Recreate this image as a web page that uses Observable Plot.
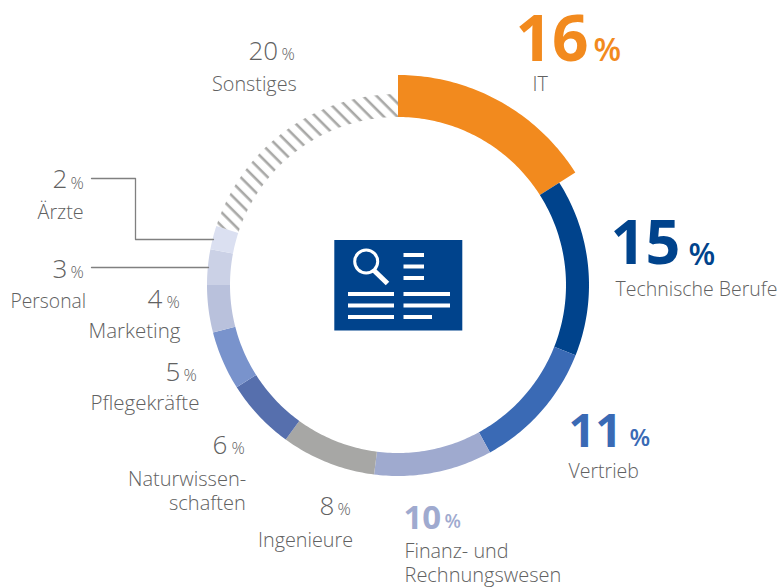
<!DOCTYPE html>
<html lang="de">
<head>
<meta charset="utf-8">
<script src="https://cdn.jsdelivr.net/npm/d3@7"></script>
<script src="https://cdn.jsdelivr.net/npm/@observablehq/plot@0.6"></script>
<style>
html,body{margin:0;padding:0;background:#fff}
svg{display:block}
</style>
</head>
<body>
<div id="chart"></div>
<script>
// chart data
const categories = ["IT","Technische Berufe","Vertrieb","Finanz- und Rechnungswesen","Ingenieure","Naturwissenschaften","Pflegekräfte","Marketing","Personal","Ärzte","Sonstiges"];
const shares = [16,15,11,10,8,6,5,4,3,2,20];
const colors = ["#f28a1e","#00438c","#3a6ab5","#9faacf","#a7a7a5","#566fad","#7993cc","#b9c1dc","#cbd1e6","#dbe0f1","url(#hatch)"];

// ring layout
const cx = 398, cy = 285, innerR = 168, outerR = 191, itOuterR = 210;

let cum = 0;
const ring = [];
shares.forEach((v, i) => {
  const start = cum, end = cum + v;
  cum = end;
  const n = Math.max(2, Math.round(v * 4));
  const rOut = i === 0 ? itOuterR : outerR;
  for (let k = 0; k <= n; k++) {
    const t = (start + (end - start) * k / n) / 100 * 2 * Math.PI;
    ring.push({
      seg: categories[i], color: colors[i],
      x1: cx + innerR * Math.sin(t), y1: cy - innerR * Math.cos(t),
      x2: cx + rOut * Math.sin(t),   y2: cy - rOut * Math.cos(t)
    });
  }
});

// percent numbers: [text, x, baseline, size, colour]
const boldNumbers = [
  ["16",515,60,64,colors[0]],
  ["15",610,263,61,colors[1]],
  ["11",568,446,47,colors[2]],
  ["10",403,528,33,colors[3]]
];
const boldPercents = [
  ["%",593,60,32,colors[0]],
  ["%",688,264,31,colors[1]],
  ["%",629,445,24,colors[2]],
  ["%",444,527,19,colors[3]]
];
const grey = "#616161";
const lightNumbers = [
  ["20",248,59,26],["%",281,59,16.5],
  ["2",52,187,26],["%",70,188,16.5],
  ["3",52,277,26],["%",70,277,16.5],
  ["4",147,307,26],["%",166,307,16.5],
  ["5",165,380,26],["%",183,380,16.5],
  ["6",212,453,26],["%",231,453,16.5],
  ["8",319,514,26],["%",337,514,16.5]
];
// label lines: [text, x, baseline, size]
const labelLines = [
  ["Sonstiges",211.5,90,19.8],["Ärzte",37,218,19.8],["Personal",10,307,19.3],["Marketing",88,337,20.5],
  ["Pflegekräfte",90,409,20.5],["Naturwissen-",127.5,485,20],["schaften",168.5,509,20],["Ingenieure",257.5,546,19.8],
  ["Finanz- und",404,557,19.8],["Rechnungswesen",404,581,20],["IT",532,90,19.8],["Technische Berufe",615,295,19.5],["Vertrieb",568,477,19.5]
];

// leader lines
const leaders = [
  {z:"Ärzte",x:91,y:178},{z:"Ärzte",x:135,y:178},{z:"Ärzte",x:135,y:239},{z:"Ärzte",x:213,y:239},
  {z:"Personal",x:91,y:267},{z:"Personal",x:208,y:267}
];

// centre icon
const iconBlue = colors[1];
const iconBars = [
  [403,423.5,254.5],[403,423.5,266],[403,423.5,277.5],
  [347.5,393.5,293.5],[347.5,393.5,305],[347.5,393.5,316.5],
  [403,449.5,293.5],[403,449.5,305],[403,431.5,316.5]
];

const hatchDefs = () => {
  const defs = d3.create("svg:defs");
  const p = defs.append("pattern").attr("id","hatch").attr("patternUnits","userSpaceOnUse")
    .attr("width",9.6).attr("height",9.6).attr("patternTransform","rotate(-45)");
  p.append("rect").attr("x",5.2).attr("width",2.6).attr("height",9.6).attr("fill","#a8a8a6");
  return defs.node();
};

const font = "'Open Sans', sans-serif";
const chart = Plot.plot({
  width: 781, height: 587,
  margin: 0,
  style: {background:"#fff"},
  x: {axis:null, domain:[0,781], range:[0,781]},
  y: {axis:null, domain:[0,587], range:[0,587]},
  marks: [
    hatchDefs,
    Plot.area(ring, {x1:"x1", y1:"y1", x2:"x2", y2:"y2", z:"seg", fill:{value:"color", scale:null}}),
    Plot.line(leaders, {x:"x", y:"y", z:"z", stroke:"#808080", strokeWidth:1.3}),
    Plot.rect([0], {x1:[334.3], x2:[462.3], y1:[240], y2:[330.5], fill:iconBlue}),
    Plot.dot([0], {x:[365.7], y:[261], r:11.5, stroke:"#fff", strokeWidth:3, fill:"none"}),
    Plot.link([0], {x1:[373.5], y1:[270], x2:[387], y2:[283], stroke:"#fff", strokeWidth:5}),
    Plot.link(iconBars, {x1:d=>d[0], x2:d=>d[1], y1:d=>d[2], y2:d=>d[2], stroke:"#fff", strokeWidth:4}),
    Plot.text(boldNumbers, {text:d=>d[0], x:d=>d[1], y:d=>d[2], fontSize:d=>d[3], fill:{value:d=>d[4], scale:null},
      textAnchor:"start", lineAnchor:"bottom", fontFamily:font, fontWeight:700}),
    Plot.text(boldPercents, {text:d=>d[0], x:d=>d[1], y:d=>d[2], fontSize:d=>d[3], fill:{value:d=>d[4], scale:null},
      textAnchor:"start", lineAnchor:"bottom", fontFamily:font, fontWeight:600}),
    Plot.text(lightNumbers, {text:d=>d[0], x:d=>d[1], y:d=>d[2], fontSize:d=>d[3], fill:grey,
      textAnchor:"start", lineAnchor:"bottom", fontFamily:font, fontWeight:300}),
    Plot.text(labelLines, {text:d=>d[0], x:d=>d[1], y:d=>d[2], fontSize:d=>d[3], fill:grey,
      textAnchor:"start", lineAnchor:"bottom", fontFamily:font, fontWeight:300})
  ]
});
document.getElementById("chart").append(chart);
</script>
</body>
</html>
